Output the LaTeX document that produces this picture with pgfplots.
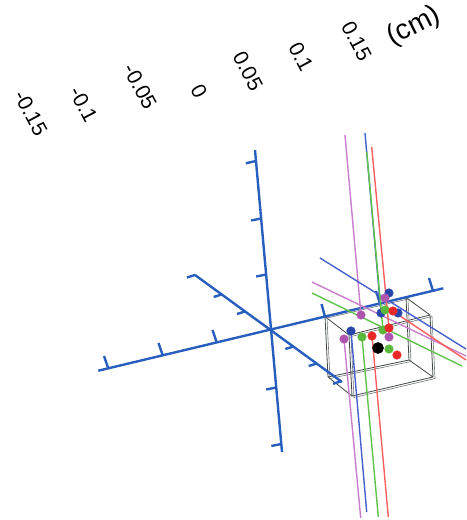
\documentclass[border=0pt]{standalone}
\usepackage{fontspec}
\setmainfont{Liberation Sans}
\usepackage{pgfplots}
\pgfplotsset{compat=1.18}
\definecolor{axblue}{RGB}{40,95,190}
\definecolor{lpurple}{RGB}{200,125,205}
\definecolor{lblue}{RGB}{70,95,205}
\definecolor{lgreen}{RGB}{95,195,75}
\definecolor{lred}{RGB}{250,95,95}
\definecolor{dpurple}{RGB}{175,85,175}
\definecolor{dblue}{RGB}{40,70,170}
\definecolor{dgreen}{RGB}{90,185,60}
\definecolor{dred}{RGB}{235,40,40}
\definecolor{boxgray}{RGB}{65,70,70}
\begin{document}
\begin{tikzpicture}
\begin{axis}[width=466pt,height=520pt,scale only axis,
  xmin=0,xmax=466,ymin=0,ymax=520,y dir=reverse,
  axis lines=none,clip=false,unbounded coords=jump]
% invisible frame so the picture spans the full canvas
\addplot[draw=none,mark=none] coordinates {(0,0) (466,520)};
% box wireframe (doubled thin edges)
\addplot[boxgray,line width=0.8pt] coordinates {
 (325,316.6) (406,297.5) (409,360) (328,377) (325,316.6) (nan,nan)
 (349,335) (430,315) (433,377) (352,396) (349,335) (nan,nan)
 (325,316.6) (349,335) (nan,nan) (406,297.5) (430,315) (nan,nan)
 (409,360) (433,377) (nan,nan) (328,377) (352,396)};
\addplot[boxgray!75,line width=0.6pt] coordinates {
 (327,318) (408,299) (411,361.5) (330,378.5) (327,318) (nan,nan)
 (351,336.5) (432,316.5) (435,378.5) (354,397.5) (351,336.5)};
% blue reference axes
\addplot[axblue,line width=2.4pt] coordinates {
 (255,150) (282,452) (nan,nan)
 (255.9,161) (245.9,163.3) (nan,nan)
 (261.1,218.5) (251.1,220.5) (nan,nan)
 (266.1,274.5) (256.1,276.5) (nan,nan)
 (276.2,387.5) (266.2,389.5) (nan,nan)
 (281.3,444) (271.3,446)};
\addplot[axblue,line width=2.4pt] coordinates {
 (98.3,370.7) (443.3,288.3) (nan,nan)
 (108.3,368.3) (104,356) (nan,nan)
 (162.7,355.3) (158.5,343) (nan,nan)
 (216.7,342.4) (212.5,330) (nan,nan)
 (325,316.6) (321.5,304) (nan,nan)
 (380,303.4) (376,291) (nan,nan)
 (433,290.8) (429,278)};
\addplot[axblue,line width=2.4pt] coordinates {
 (195,275) (342,382) (nan,nan)
 (195,275) (187,277.5) (nan,nan)
 (221.7,294.4) (213.7,297) (nan,nan)
 (245,311.4) (237,314) (nan,nan)
 (293.3,346.6) (285.3,349) (nan,nan)
 (316.7,363.6) (308.7,366) (nan,nan)
 (341,381.3) (333,383.8)};
% coloured lines
\addplot[lpurple,line width=1.4pt] coordinates {(345,135) (361,315) (nan,nan) (344,339) (360.7,518) (nan,nan) (312,282) (466,356)};
\addplot[lblue,line width=1.4pt] coordinates {(365,133) (381,313) (nan,nan) (351,331) (366.7,512) (nan,nan) (320,258) (466,349)};
\addplot[lgreen,line width=1.4pt] coordinates {(366.7,152) (383,330) (nan,nan) (362,337) (378.3,517) (nan,nan) (312,293) (462,366)};
\addplot[lred,line width=1.4pt] coordinates {(371.7,147) (389,328) (nan,nan) (372,336) (388.3,517) (nan,nan) (385,306) (466,360)};
% dots
\addplot[only marks,mark=*,mark size=4.3pt,color=dblue] coordinates {(389,293) (381,313) (398,313) (351,331)};
\addplot[only marks,mark=*,mark size=4.3pt,color=dpurple] coordinates {(385,298) (361,315) (344,339) (389,337)};
\addplot[only marks,mark=*,mark size=4.3pt,color=dgreen] coordinates {(385,310) (383,330) (362,337) (389,349)};
\addplot[only marks,mark=*,mark size=4.3pt,color=dred] coordinates {(393,311) (389,328) (372,336) (397,355)};
\addplot[only marks,mark=*,mark size=5.6pt,color=black] coordinates {(378,348)};
% scale labels
\begin{scope}[every node/.style={font=\fontsize{21}{21}\selectfont,rotate=-62,inner sep=0pt}]
\node at (axis cs:30.8,113) {-0.15};
\node at (axis cs:83.5,104.5) {-0.1};
\node at (axis cs:140,86.7) {-0.05};
\node at (axis cs:199,91) {0};
\node at (axis cs:248,71) {0.05};
\node at (axis cs:301,56.7) {0.1};
\node at (axis cs:356.7,41) {0.15};
\end{scope}
\node[font=\fontsize{28}{28}\selectfont,rotate=27,inner sep=0pt] at (axis cs:414,26.7) {(cm)};
\end{axis}
\end{tikzpicture}
\end{document}
